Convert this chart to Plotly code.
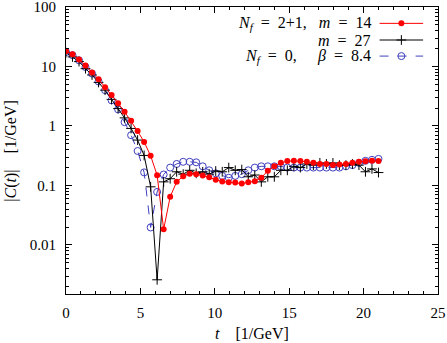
import numpy as np
import plotly.graph_objects as go

dt = 0.4375
t = [round(i * dt, 4) for i in range(49)]

red = [18.2, 16.0, 13.1, 10.4, 7.9, 6.1, 4.5, 3.33, 2.41, 1.73,
       1.22, 0.82, 0.54, 0.315, 0.149, 0.0183, 0.0646, 0.115, 0.143, 0.157,
       0.155, 0.147, 0.137, 0.125, 0.117, 0.113, 0.112, 0.108, 0.113, 0.118,
       0.135, 0.177, 0.21, 0.24, 0.257, 0.26, 0.257, 0.25, 0.24, 0.23,
       0.23, 0.22, 0.225, 0.23, 0.24, 0.25, 0.255, 0.26, 0.257]

black = [17.1, 14.5, 12.1, 9.2, 7.2, 5.4, 4.0, 2.8, 1.96, 1.37,
         0.91, 0.58, 0.32, 0.095, 0.0026, 0.115, 0.13, 0.17, 0.155, 0.18,
         0.16, 0.17, 0.155, 0.175, 0.17, 0.2, 0.18, 0.185, 0.14, 0.15,
         0.115, 0.14, 0.14, 0.18, 0.18, 0.21, 0.2, 0.23, 0.22, 0.24,
         0.23, 0.24, 0.22, 0.22, 0.23, 0.22, 0.17, 0.19, 0.165]

blue = [17.5, 15.5, 12.7, 9.8, 7.6, 5.6, 4.0, 2.7, 1.9, 1.16,
        0.70, 0.38, 0.166, 0.0197, 0.078, 0.153, 0.2, 0.23, 0.25, 0.25,
        0.245, 0.21, 0.18, 0.16, 0.145, 0.135, 0.145, 0.155, 0.18, 0.2,
        0.21, 0.21, 0.21, 0.21, 0.2, 0.2, 0.2, 0.2, 0.2, 0.2,
        0.2, 0.2, 0.2, 0.21, 0.22, 0.24, 0.26, 0.27, 0.28]

ytick_vals = [0.01, 0.1, 1, 10, 100]
ytick_text = ["0.01", "0.1", "1", "10", "100"]
xtick_vals = [0, 5, 10, 15, 20, 25]

RED = "#ff0000"
BLACK = "#000000"
BLUE = "#4040c0"
FONT = "Liberation Serif"
S = "&nbsp;"

red_marker = dict(symbol="circle", size=6, color=RED)
black_marker = dict(symbol="cross-thin", size=7, color=BLACK, line=dict(width=1, color=BLACK))
blue_marker = dict(symbol="circle-open", size=7, color=BLUE, line=dict(width=1))

fig = go.Figure()
fig.add_trace(go.Scatter(x=t, y=blue, mode="lines+markers",
                         line=dict(color=BLUE, width=1, dash="dash"), marker=blue_marker,
                         showlegend=False))
fig.add_trace(go.Scatter(x=t, y=black, mode="lines+markers",
                         line=dict(color=BLACK, width=1), marker=black_marker,
                         showlegend=False))
fig.add_trace(go.Scatter(x=t, y=red, mode="lines+markers",
                         line=dict(color=RED, width=1), marker=red_marker,
                         showlegend=False))

# legend samples on an overlay unit axis
leg_y = [0.943, 0.885, 0.829]
styles = [
    (dict(color=RED, width=1), red_marker),
    (dict(color=BLACK, width=1), black_marker),
    (dict(color=BLUE, width=1, dash="dash"), blue_marker),
]
for yy, (ln, mk) in zip(leg_y, styles):
    fig.add_trace(go.Scatter(x=[0.843, 0.96], y=[yy, yy], mode="lines", xaxis="x2", yaxis="y2",
                             line=ln, showlegend=False, hoverinfo="skip"))
    fig.add_trace(go.Scatter(x=[0.9015], y=[yy], mode="markers", xaxis="x2", yaxis="y2",
                             marker=mk, showlegend=False, hoverinfo="skip"))

labels = [f"<i>N<sub>f</sub></i>{S*2}={S*2}2+1,{S*3}<i>m</i>{S*2}={S*2}14",
          f"<i>m</i>{S*2}={S*2}27",
          f"<i>β</i>{S*2}={S*2}8.4"]
for yy, lab in zip(leg_y, labels):
    fig.add_annotation(x=0.825, y=yy, xref="x2", yref="y2", text=lab, showarrow=False,
                       xanchor="right", yanchor="middle", font=dict(family=FONT, size=16, color="black"))
fig.add_annotation(x=0.477, y=leg_y[2], xref="x2", yref="y2",
                   text=f"<i>N<sub>f</sub></i>{S*2}={S*2}0,",
                   showarrow=False, xanchor="left", yanchor="middle",
                   font=dict(family=FONT, size=16, color="black"))

# axis titles
fig.add_annotation(x=-0.15, y=0.5, xref="paper", yref="paper", textangle=-90,
                   text=f"|<i>C</i>(<i>t</i>)|{S*4}[1/GeV]", showarrow=False,
                   xanchor="center", yanchor="middle", font=dict(family=FONT, size=16, color="black"))
fig.add_annotation(x=0.5, y=-0.136, xref="paper", yref="paper",
                   text=f"<i>t</i>{S*4}[1/GeV]", showarrow=False,
                   xanchor="center", yanchor="middle", font=dict(family=FONT, size=16, color="black"))

minor_y = [m * 10 ** e for e in range(-3, 2) for m in range(2, 10)]

fig.update_layout(
    width=447, height=343,
    margin=dict(l=66, r=9, t=7, b=49, autoexpand=False),
    paper_bgcolor="white", plot_bgcolor="white",
    font=dict(family=FONT, size=15, color="black"),
    xaxis=dict(range=[0, 25], tickvals=xtick_vals, ticks="inside", ticklen=6, tickwidth=1,
               tickcolor="black", showline=True, linecolor="black", linewidth=1, mirror="allticks",
               showgrid=False, zeroline=False, automargin=False, ticklabeloverflow="allow",
               ticklabelstandoff=5,
               minor=dict(dtick=1, ticks="inside", ticklen=3, tickcolor="black", showgrid=False)),
    yaxis=dict(type="log", range=[np.log10(0.0015), 2], tickvals=ytick_vals, ticktext=ytick_text,
               ticks="inside", ticklen=6, tickwidth=1, tickcolor="black", showline=True,
               linecolor="black", linewidth=1, mirror="allticks", showgrid=False, zeroline=False,
               automargin=False, ticklabeloverflow="allow", ticklabelstandoff=6,
               minor=dict(tickvals=minor_y, ticks="inside", ticklen=3, tickcolor="black", showgrid=False)),
    xaxis2=dict(range=[0, 1], overlaying="x", visible=False, fixedrange=True),
    yaxis2=dict(range=[0, 1], overlaying="y", visible=False, fixedrange=True),
)

fig.write_html("out.html", config={"displayModeBar": False},
               post_script="document.body.style.margin='0px';")
